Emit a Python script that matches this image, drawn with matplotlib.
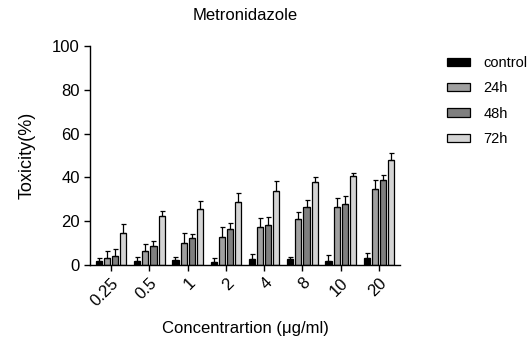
import numpy as np
import matplotlib.pyplot as plt
from matplotlib.patches import Patch

plt.rcParams['font.family'] = ['Liberation Sans', 'DejaVu Sans']

# 数据
conc = ['0.25', '0.5', '1', '2', '4', '8', '10', '20']
series = ['control', '24h', '48h', '72h']
control = [2.0, 2.0, 2.3, 1.5, 2.9, 2.7, 2.0, 3.2]
h24 = [3.2, 6.4, 10.2, 12.9, 17.5, 21.0, 26.6, 34.7]
h48 = [4.2, 8.8, 12.5, 16.3, 18.3, 26.6, 27.8, 39.0]
h72 = [14.4, 22.4, 25.8, 28.9, 33.9, 37.7, 40.8, 48.0]
err_control = [1.0, 1.8, 1.4, 1.7, 2.1, 1.1, 2.4, 2.5]
err_24 = [3.3, 3.0, 4.3, 4.3, 4.0, 3.2, 3.8, 4.0]
err_48 = [2.9, 2.1, 1.5, 2.9, 3.6, 3.3, 3.6, 2.1]
err_72 = [4.3, 2.1, 3.5, 4.0, 4.3, 2.6, 1.0, 3.2]

values = [control, h24, h48, h72]
errors = [err_control, err_24, err_48, err_72]
colors = ['#000000', '#a0a0a0', '#7f7f7f', '#d4d4d4']

fig = plt.figure(figsize=(5.27, 3.40), dpi=100)
ax = fig.add_axes([0.171, 0.2206, 0.588, 0.644])

x = np.arange(len(conc))
step = 0.213
width = 0.16
for i, (vals, errs, c) in enumerate(zip(values, errors, colors)):
    pos = x + (i - 1.5) * step
    ax.bar(pos, vals, width, color=c, edgecolor='black', linewidth=0.9)
    ax.errorbar(pos, vals, yerr=[np.zeros(len(errs)), errs], fmt='none',
                ecolor='black', elinewidth=0.9, capsize=1.8, capthick=0.9)

ax.set_xlim(-0.55, 7.55)
ax.set_ylim(0, 100)
ax.set_yticks([0, 20, 40, 60, 80, 100])
ax.set_xticks(x)
ax.set_xticklabels(conc, rotation=45, ha='right', rotation_mode='anchor')
ax.tick_params(labelsize=12, width=1, length=4)
ax.spines['top'].set_visible(False)
ax.spines['right'].set_visible(False)
ax.spines['left'].set_linewidth(1)
ax.spines['bottom'].set_linewidth(1)

ax.set_ylabel('Toxicity(%)', fontsize=13, labelpad=12)
ax.set_xlabel('Concentrartion (μg/ml)', fontsize=12, labelpad=9)
ax.set_title('Metronidazole', fontsize=12, pad=19)

handles = [Patch(facecolor=c, edgecolor='black', linewidth=0.9) for c in colors]
fig.legend(handles, series, loc='upper left', bbox_to_anchor=(0.823, 0.874),
           frameon=False, fontsize=10.5, handlelength=1.6, handleheight=0.5,
           labelspacing=0.78, handletextpad=0.9)

fig.savefig('out.png', dpi=100)
